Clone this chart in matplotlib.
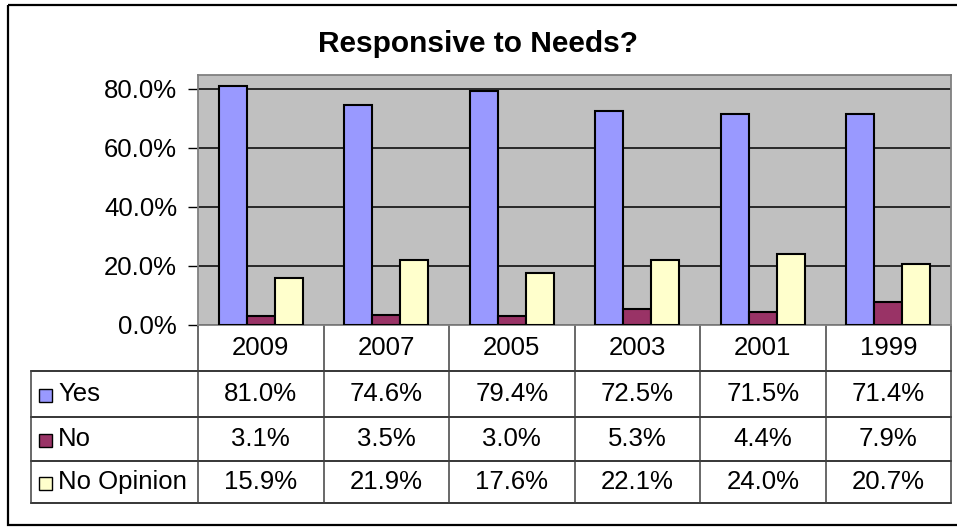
import numpy as np
import matplotlib.pyplot as plt
from matplotlib.patches import Rectangle

plt.rcParams['font.family'] = ['Liberation Sans', 'DejaVu Sans']

years = ["2009", "2007", "2005", "2003", "2001", "1999"]
yes = [81.0, 74.6, 79.4, 72.5, 71.5, 71.4]
no = [3.1, 3.5, 3.0, 5.3, 4.4, 7.9]
no_opinion = [15.9, 21.9, 17.6, 22.1, 24.0, 20.7]

series = [("Yes", yes, "#9999FF"), ("No", no, "#993366"), ("No Opinion", no_opinion, "#FFFFCC")]

W, H = 957, 527
fig = plt.figure(figsize=(W / 100, H / 100), dpi=100)

# plot area in pixels
px0, px1, py0, py1 = 198, 951, 75, 325
fs = 18.5

# overlay in pixel coords for frame and data table
ov = fig.add_axes([0, 0, 1, 1])
ov.set_xlim(0, W)
ov.set_ylim(H, 0)
ov.axis("off")
ov.add_patch(Rectangle((8, 5), 970, 520, fill=False, lw=1.6, ec="black"))

ax = fig.add_axes([px0 / W, 1 - py1 / H, (px1 - px0) / W, (py1 - py0) / H])
ax.set_facecolor("#C0C0C0")
x = np.arange(len(years))
bw = 0.222
for i, (name, vals, col) in enumerate(series):
    ax.bar(x + (i - 1) * bw, vals, bw, color=col, edgecolor="black", lw=1.5, zorder=3)
ax.set_xlim(-0.5, len(years) - 0.5)
ax.set_ylim(0, 84.7)
ax.set_yticks([0, 20, 40, 60, 80])
ax.set_yticklabels([f"{v:.1f}%" for v in [0, 20, 40, 60, 80]], fontsize=fs)
ax.yaxis.grid(True, color="black", lw=1.1, zorder=1)
ax.set_axisbelow(True)
ax.set_xticks([])
ax.tick_params(axis="y", length=7, width=1, color="black", pad=8)
for s in ax.spines.values():
    s.set_color("#808080")
    s.set_linewidth(1.3)

fig.text(0.5, 1 - 44 / H, "Responsive to Needs?", ha="center", va="center",
         fontsize=21.5, fontweight="bold")

# data table
cw = (px1 - px0) / len(years)
rows = [325, 371, 417, 461, 503]
lc = "#404040"
for yy in rows[1:]:
    ov.plot([31, px1], [yy, yy], color="black", lw=1.1)
ov.plot([31, 31], [rows[1], rows[-1]], color=lc, lw=1.1)
for j in range(len(years) + 1):
    xx = px0 + j * cw
    ov.plot([xx, xx], [rows[0], rows[-1]], color=lc, lw=1.1)
for j, yr in enumerate(years):
    ov.text(px0 + (j + 0.5) * cw, (rows[0] + rows[1]) / 2, yr, ha="center", va="center", fontsize=fs)
for i, (name, vals, col) in enumerate(series):
    yc = (rows[i + 1] + rows[i + 2]) / 2
    ov.add_patch(Rectangle((39, yc - 5), 13, 13, fc=col, ec="black", lw=1))
    ov.text(58, yc, name, ha="left", va="center", fontsize=fs)
    for j, v in enumerate(vals):
        ov.text(px0 + (j + 0.5) * cw, yc, f"{v:.1f}%", ha="center", va="center", fontsize=fs)

fig.savefig("out.png", dpi=100)
